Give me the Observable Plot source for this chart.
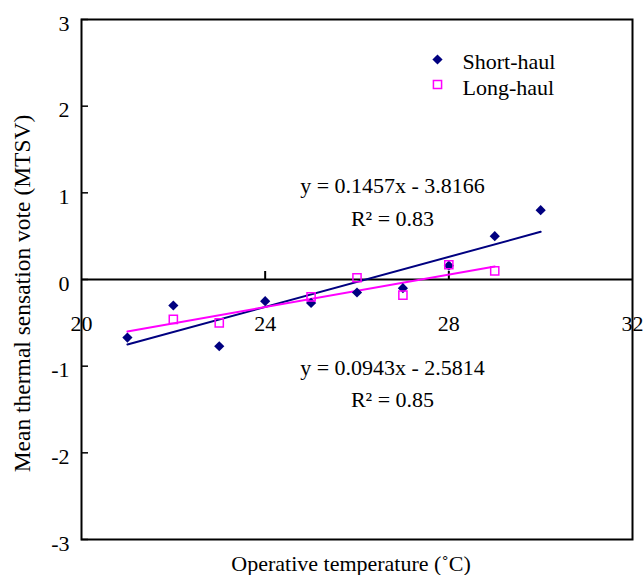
<!DOCTYPE html>
<html><head><meta charset="utf-8">
<script src="https://cdn.jsdelivr.net/npm/d3@7"></script>
<script src="https://cdn.jsdelivr.net/npm/@observablehq/plot@0.6"></script>
<style>body{margin:0;background:#fff}</style>
</head><body><div id="chart"></div>
<script>
// Data
const shortX = [21, 22, 23, 24, 25, 26, 27, 28, 29, 30];
const shortY = [-0.67, -0.30, -0.77, -0.25, -0.27, -0.15, -0.10, 0.16, 0.50, 0.80];
const longX = [22, 23, 25, 26, 27, 28, 29];
const longY = [-0.46, -0.50, -0.20, 0.02, -0.18, 0.17, 0.10];
// Trend line end points
const shortTrendX = [21, 30];
const shortTrendY = [-0.75, 0.55];
const longTrendX = [21, 29];
const longTrendY = [-0.60, 0.15];
const xTicks = [20, 24, 28, 32];
const xInnerTicks = [24, 28];
const yTicks = [-3, -2, -1, 0, 1, 2, 3];
const seriesNames = ["Short-haul", "Long-haul"];
const eqShort = ["y = 0.1457x - 3.8166", "R\u00B2 = 0.83"];
const eqLong = ["y = 0.0943x - 2.5814", "R\u00B2 = 0.85"];
const xTitle = "Operative temperature (\u02DAC)";
const yTitle = "Mean thermal sensation vote (MTSV)";

const navy = "#000080", magenta = "#FF00FF";
const shortData = shortX.map((x, i) => ({x, y: shortY[i]}));
const longData = longX.map((x, i) => ({x, y: longY[i]}));
const shortTrend = shortTrendX.map((x, i) => ({x, y: shortTrendY[i]}));
const longTrend = longTrendX.map((x, i) => ({x, y: longTrendY[i]}));

const W = 643, H = 575, ML = 81, MR = 11, MT = 19, MB = 36;
const fw = W - ML - MR, fh = H - MT - MB;
const zeroFromTop = fh / 2;
const fmt = d => (d < 0 ? "-" + Math.abs(d) : String(d));

const chart = Plot.plot({
  width: W, height: H,
  marginLeft: ML, marginRight: MR, marginTop: MT, marginBottom: MB,
  x: {domain: [20, 32], axis: null},
  y: {domain: [-3, 3], axis: null},
  style: {fontFamily: "'Liberation Serif', 'Times New Roman', serif", fontSize: "22px", color: "#000", background: "#fff", overflow: "visible"},
  marks: [
    Plot.axisY(yTicks, {anchor: "left", tickSize: 0, tickPadding: 12, dy: 4, tickFormat: fmt, label: null}),
    Plot.tickY(yTicks, {y: d => d, insetRight: fw - 7, stroke: "#000", strokeWidth: 1.5}),
    Plot.ruleY([0], {stroke: "#000", strokeWidth: 2}),
    Plot.tickX(xInnerTicks, {x: d => d, insetTop: zeroFromTop - 8, insetBottom: fh - zeroFromTop, stroke: "#000", strokeWidth: 2}),
    Plot.text(xTicks, {x: d => d, y: 0, dy: 44, text: d => String(d)}),
    Plot.text([yTitle], {frameAnchor: "left", dx: -59, dy: 14, rotate: -90, fontSize: 23.5, textAnchor: "middle", lineAnchor: "middle"}),
    Plot.text([xTitle], {frameAnchor: "bottom", dx: -6, dy: 24, lineAnchor: "middle", textAnchor: "middle"}),
    Plot.line(shortTrend, {x: "x", y: "y", stroke: navy, strokeWidth: 2}),
    Plot.line(longTrend, {x: "x", y: "y", stroke: magenta, strokeWidth: 2}),
    Plot.dot(shortData, {x: "x", y: "y", symbol: "diamond2", fill: navy, stroke: "none", r: 4.6}),
    Plot.dot(longData, {x: "x", y: "y", symbol: "square", fill: "none", stroke: magenta, strokeWidth: 1.5, r: 4.6}),
    // legend
    Plot.dot([seriesNames[0]], {frameAnchor: "top-left", dx: 437 - ML, dy: 59 - MT, symbol: "diamond2", fill: navy, stroke: "none", r: 4.6}),
    Plot.dot([seriesNames[1]], {frameAnchor: "top-left", dx: 437 - ML, dy: 84 - MT, symbol: "square", fill: "none", stroke: magenta, strokeWidth: 1.5, r: 4.6}),
    Plot.text([seriesNames[0]], {frameAnchor: "top-left", dx: 462 - ML, dy: 61 - MT, textAnchor: "start", lineAnchor: "middle"}),
    Plot.text([seriesNames[1]], {frameAnchor: "top-left", dx: 462 - ML, dy: 87 - MT, textAnchor: "start", lineAnchor: "middle"}),
    // equations
    Plot.text([eqShort[0]], {frameAnchor: "top-left", dx: 392 - ML, dy: 185 - MT, lineAnchor: "middle", textAnchor: "middle"}),
    Plot.text([eqShort[1]], {frameAnchor: "top-left", dx: 392 - ML, dy: 218 - MT, lineAnchor: "middle", textAnchor: "middle"}),
    Plot.text([eqLong[0]], {frameAnchor: "top-left", dx: 392 - ML, dy: 367 - MT, lineAnchor: "middle", textAnchor: "middle"}),
    Plot.text([eqLong[1]], {frameAnchor: "top-left", dx: 392 - ML, dy: 399 - MT, lineAnchor: "middle", textAnchor: "middle"}),
    Plot.frame({stroke: "#000", strokeWidth: 2})
  ]
});
document.getElementById("chart").appendChild(chart);
</script>
</body></html>
